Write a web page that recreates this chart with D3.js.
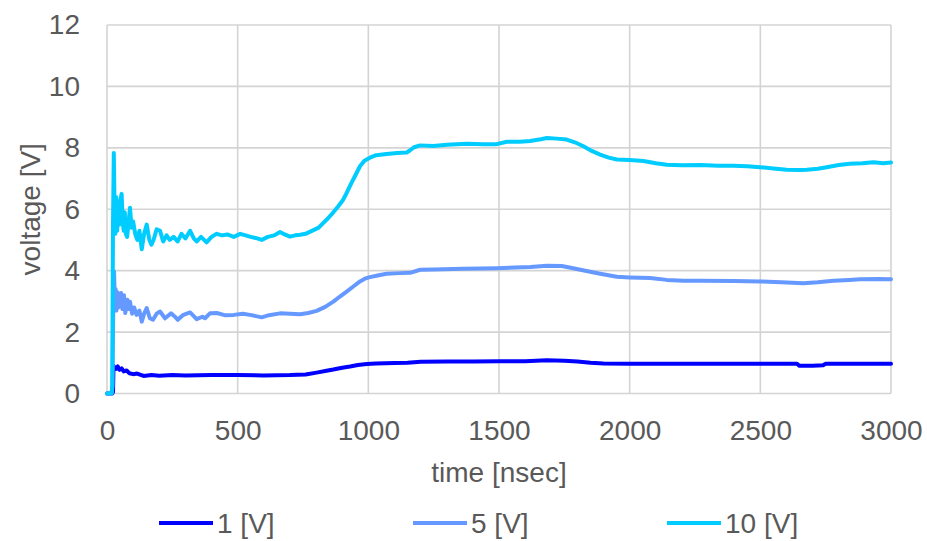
<!DOCTYPE html>
<html>
<head>
<meta charset="utf-8">
<script src="https://cdn.jsdelivr.net/npm/d3@7"></script>
<style>
  html, body { margin: 0; padding: 0; background: #fff; }
  svg { display: block; font-family: "Liberation Sans", Arial, sans-serif; }
  .tick text { fill: #595959; font-size: 28px; }
</style>
</head>
<body>
<svg id="chart" width="927" height="541"></svg>
<script>
// Axis ticks
const xTicks = [0, 500, 1000, 1500, 2000, 2500, 3000];
const yTicks = [0, 2, 4, 6, 8, 10, 12];

// Series names and colours
const seriesNames = ["1 [V]", "5 [V]", "10 [V]"];
const seriesColors = ["#0000FF", "#6699FF", "#00CCFF"];

// Measured waveforms: [time (nsec), voltage (V)]
const wave1V = [
  [0,0],[20,0],[23,0.05],[25,0.9],[29,0.85],[35,0.8],[41,0.88],[48,0.77],[56,0.82],[64,0.72],
  [75,0.75],[85,0.66],[100,0.63],[115,0.65],[140,0.57],[170,0.6],[200,0.58],[250,0.6],[300,0.59],
  [400,0.6],[500,0.6],[600,0.59],[700,0.6],[760,0.62],[802,0.68],[840,0.74],[866,0.78],[900,0.84],
  [930,0.88],[960,0.93],[994,0.96],[1030,0.98],[1100,0.99],[1150,1.0],[1200,1.03],[1300,1.04],
  [1400,1.04],[1500,1.05],[1600,1.05],[1683,1.08],[1750,1.07],[1800,1.04],[1850,1.0],[1900,0.98],
  [2000,0.97],[2200,0.97],[2500,0.97],[2640,0.97],[2650,0.9],[2700,0.9],[2740,0.92],[2750,0.97],[3000,0.97]
];

const wave5V = [
  [0,0],[18,0],[21,0.3],[24,2.8],[27,3.97],[30,3.0],[33,3.4],[36,2.7],[40,3.3],[44,2.8],[49,2.9],
  [54,3.27],[59,2.75],[65,3.2],[70,2.62],[78,3.05],[84,2.75],[88,2.99],[96,2.6],[104,2.8],[113,2.56],
  [124,2.7],[133,2.34],[142,2.6],[152,2.78],[164,2.45],[176,2.4],[190,2.6],[203,2.67],[222,2.45],
  [245,2.61],[260,2.5],[271,2.4],[290,2.55],[318,2.64],[343,2.42],[365,2.5],[375,2.45],[394,2.61],
  [420,2.62],[450,2.55],[485,2.56],[520,2.6],[547,2.56],[570,2.52],[592,2.48],[620,2.55],[662,2.61],
  [700,2.6],[739,2.58],[770,2.62],[802,2.69],[835,2.82],[866,2.99],[890,3.15],[917,3.32],[945,3.5],
  [968,3.65],[990,3.75],[1006,3.79],[1040,3.85],[1070,3.9],[1121,3.92],[1160,3.93],[1198,4.03],
  [1250,4.04],[1363,4.06],[1430,4.07],[1491,4.08],[1560,4.1],[1620,4.12],[1683,4.16],[1740,4.15],
  [1784,4.08],[1830,4.0],[1887,3.9],[1951,3.8],[2000,3.78],[2078,3.76],[2142,3.7],[2206,3.67],
  [2270,3.67],[2400,3.66],[2499,3.65],[2580,3.62],[2665,3.59],[2720,3.62],[2780,3.67],[2840,3.7],
  [2882,3.72],[2950,3.73],[3000,3.72]
];

const wave10V = [
  [0,0],[17,0],[20,0.2],[23,5.5],[26,7.83],[29,6.0],[32,5.2],[35,6.4],[39,5.3],[43,6.2],[47,5.5],
  [51,6.3],[56,6.5],[60,5.6],[64,5.3],[68,5.9],[72,5.2],[77,5.1],[82,5.5],[88,6.05],[94,5.4],
  [100,5.6],[108,5.2],[116,5.0],[124,5.3],[133,4.7],[142,5.2],[152,5.5],[162,5.0],[170,4.85],
  [178,5.0],[190,5.35],[203,5.3],[215,4.95],[228,5.15],[240,5.0],[255,5.1],[270,4.95],[285,5.2],
  [300,5.05],[318,5.3],[332,5.05],[343,4.95],[360,5.1],[381,4.92],[400,5.1],[420,5.2],[440,5.15],
  [460,5.18],[485,5.1],[510,5.2],[530,5.15],[550,5.1],[575,5.05],[592,5.0],[615,5.1],[640,5.15],
  [662,5.26],[680,5.18],[700,5.11],[720,5.15],[739,5.17],[760,5.2],[788,5.31],[810,5.4],[827,5.55],
  [845,5.7],[866,5.9],[885,6.1],[903,6.3],[917,6.53],[935,6.85],[950,7.1],[968,7.4],[985,7.58],
  [1006,7.68],[1030,7.76],[1070,7.8],[1110,7.83],[1147,7.85],[1160,7.92],[1175,8.02],[1198,8.08],
  [1249,8.06],[1300,8.1],[1377,8.13],[1440,8.12],[1491,8.12],[1530,8.2],[1580,8.2],[1619,8.22],
  [1660,8.28],[1683,8.32],[1720,8.3],[1759,8.27],[1790,8.18],[1823,8.05],[1855,7.9],[1887,7.78],
  [1920,7.68],[1951,7.62],[2000,7.6],[2053,7.57],[2100,7.5],[2142,7.45],[2200,7.43],[2270,7.44],
  [2340,7.42],[2397,7.42],[2450,7.4],[2499,7.37],[2550,7.33],[2601,7.29],[2650,7.28],[2678,7.29],
  [2720,7.32],[2754,7.37],[2800,7.44],[2843,7.48],[2890,7.5],[2933,7.53],[2970,7.5],[3000,7.52]
];

const seriesData = [wave1V, wave5V, wave10V];

const svg = d3.select("#chart");
const plot = { left: 107, right: 891, top: 25, bottom: 393.5 };

const x = d3.scaleLinear().domain([0, 3000]).range([plot.left, plot.right]);
const y = d3.scaleLinear().domain([0, 12]).range([plot.bottom, plot.top]);

svg.append("rect").attr("width", 927).attr("height", 541).attr("fill", "#fff");

// Gridlines
const grid = svg.append("g").attr("stroke", "#d4d4d4").attr("stroke-width", 1.6);
grid.selectAll("line.h").data(yTicks).join("line")
  .attr("x1", plot.left).attr("x2", plot.right)
  .attr("y1", d => y(d)).attr("y2", d => y(d));
grid.selectAll("line.v").data(xTicks).join("line")
  .attr("y1", plot.top).attr("y2", plot.bottom)
  .attr("x1", d => x(d)).attr("x2", d => x(d));

// Axes (labels only; lines come from the grid)
const fmt = d3.format("d");
const yAxis = svg.append("g")
  .attr("transform", `translate(${plot.left},0)`)
  .call(d3.axisLeft(y).tickValues(yTicks).tickFormat(fmt).tickSize(0).tickPadding(27));
yAxis.select(".domain").remove();

const xAxis = svg.append("g")
  .attr("transform", `translate(0,${plot.bottom})`)
  .call(d3.axisBottom(x).tickValues(xTicks).tickFormat(fmt).tickSize(0).tickPadding(27));
xAxis.select(".domain").remove();
svg.selectAll(".tick text").attr("font-family", "Liberation Sans, Arial, sans-serif");

// Axis titles
svg.append("text")
  .attr("x", (plot.left + plot.right) / 2).attr("y", 482)
  .attr("text-anchor", "middle").attr("fill", "#595959").attr("font-size", 28)
  .text("time [nsec]");

svg.append("text")
  .attr("transform", `translate(40,${(plot.top + plot.bottom) / 2}) rotate(-90)`)
  .attr("text-anchor", "middle").attr("fill", "#595959").attr("font-size", 28)
  .text("voltage [V]");

// Waveforms
const line = d3.line().x(d => x(d[0])).y(d => y(d[1]));
svg.append("g").selectAll("path").data(seriesData).join("path")
  .attr("d", line)
  .attr("fill", "none")
  .attr("stroke", (d, i) => seriesColors[i])
  .attr("stroke-width", 4)
  .attr("stroke-linejoin", "round")
  .attr("stroke-linecap", "round");

// Legend
const legend = svg.append("g").selectAll("g").data(seriesNames).join("g")
  .attr("transform", (d, i) => `translate(${159 + i * 254},523)`);
legend.append("line")
  .attr("x1", 0).attr("x2", 54).attr("y1", 0).attr("y2", 0)
  .attr("stroke", (d, i) => seriesColors[i]).attr("stroke-width", 4);
legend.append("text")
  .attr("x", 58).attr("y", 10).attr("fill", "#595959").attr("font-size", 28)
  .text(d => d);
</script>
</body>
</html>
